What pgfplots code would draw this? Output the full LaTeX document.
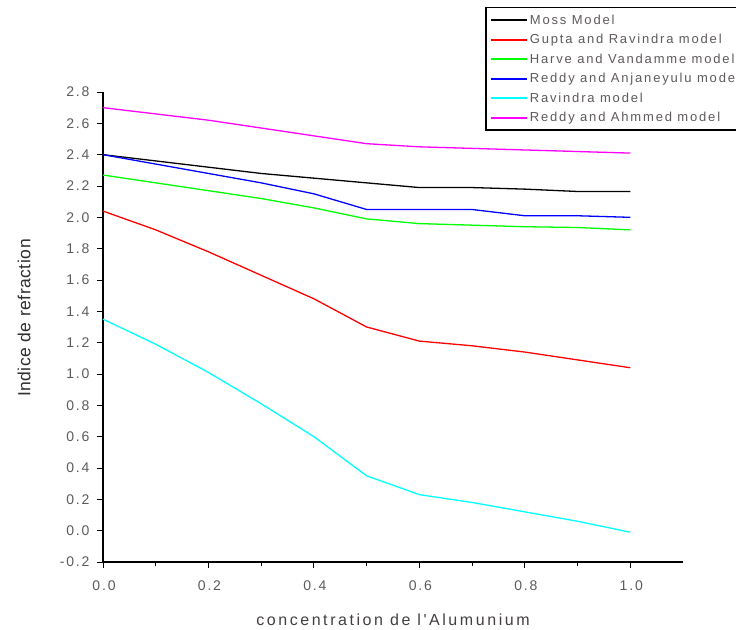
\documentclass[border=0pt]{standalone}
\usepackage{pgfplots}
\pgfplotsset{compat=1.18}
\usepackage{fontspec}
\setmainfont{Liberation Sans}
\newfontfamily\tickfont[LetterSpace=13]{Liberation Sans}
\newfontfamily\legfont[LetterSpace=14]{Liberation Sans}
\newfontfamily\xlabfont[LetterSpace=16]{Liberation Sans}
\newfontfamily\ylabfont[LetterSpace=3]{Liberation Sans}
\definecolor{lblgray}{RGB}{95,90,90}
\definecolor{cBlack}{RGB}{0,0,0}
\definecolor{cRed}{RGB}{255,0,0}
\definecolor{cGreen}{RGB}{0,255,0}
\definecolor{cBlue}{RGB}{0,0,255}
\definecolor{cCyan}{RGB}{0,255,255}
\definecolor{cMagenta}{RGB}{255,0,255}
\begin{document}
\begin{tikzpicture}
\begin{scope}
\clip (-103bp,-68bp) rectangle (633bp,562bp);
\begin{axis}[
  scale only axis,
  width=580bp, height=470bp,
  at={(0,0)}, anchor=south west,
  xmin=0, xmax=1.1, ymin=-0.2, ymax=2.8,
  axis x line=bottom, axis y line=left,
  axis line style={black, line width=1.2pt, -},
  xtick={0,0.2,...,1.0},
  ytick={-0.2,0,0.2,...,2.8},
  minor x tick num=1, minor y tick num=1,
  tick align=outside,
  major tick length=6bp, minor tick length=4bp,
  every tick/.style={black, line width=1pt},
  /pgf/number format/fixed,
  /pgf/number format/fixed zerofill,
  /pgf/number format/precision=1,
  /pgf/number format/assume math mode=true,
  ticklabel style={font=\fontsize{14bp}{16bp}\tickfont, text=lblgray},
  xticklabel style={anchor=center, yshift=-18bp, xshift=1bp},
  yticklabel style={anchor=east, xshift=-4bp},
  xlabel={concentration de l'Alumunium},
  ylabel={Indice de refraction},
  xlabel style={font=\fontsize{16bp}{18bp}\xlabfont, text=lblgray!70!black,
     at={(axis description cs:0.5,0)}, anchor=center, yshift=-58bp},
  ylabel style={font=\fontsize{17.5bp}{20bp}\ylabfont, text=lblgray!50!black,
     at={(axis description cs:0,0.519)}, anchor=center, yshift=79bp},
  clip=false,
  legend cell align=left,
  legend style={at={(axis description cs:0.659,1.181)}, anchor=north west,
    draw=black, line width=1.4pt, inner xsep=4bp, inner ysep=5bp, row sep=4.6bp,
    font=\fontsize{13bp}{15bp}\legfont, text=lblgray,
    /tikz/every even column/.append style={column sep=4bp}},
  legend image code/.code={\draw[#1,line width=2pt] (0bp,0bp) -- (36bp,0bp);},
  every axis plot/.append style={line width=1.3pt},
]
\addplot[cBlack] coordinates {(0,2.40) (0.1,2.36) (0.2,2.32) (0.3,2.28) (0.4,2.25) (0.5,2.22) (0.6,2.19) (0.7,2.19) (0.8,2.18) (0.9,2.165) (1.0,2.165)};
\addlegendentry{Moss Model}
\addplot[cRed] coordinates {(0,2.04) (0.1,1.92) (0.2,1.78) (0.3,1.63) (0.4,1.48) (0.5,1.30) (0.6,1.21) (0.7,1.18) (0.8,1.14) (0.9,1.09) (1.0,1.04)};
\addlegendentry{Gupta and Ravindra model}
\addplot[cGreen] coordinates {(0,2.27) (0.1,2.22) (0.2,2.17) (0.3,2.12) (0.4,2.06) (0.5,1.99) (0.6,1.96) (0.7,1.95) (0.8,1.94) (0.9,1.935) (1.0,1.92)};
\addlegendentry{Harve and Vandamme model}
\addplot[cBlue] coordinates {(0,2.40) (0.1,2.34) (0.2,2.28) (0.3,2.22) (0.4,2.15) (0.5,2.05) (0.6,2.05) (0.7,2.05) (0.8,2.01) (0.9,2.01) (1.0,2.00)};
\addlegendentry{Reddy and Anjaneyulu model}
\addplot[cCyan] coordinates {(0,1.35) (0.1,1.19) (0.2,1.01) (0.3,0.81) (0.4,0.60) (0.5,0.35) (0.6,0.23) (0.7,0.18) (0.8,0.12) (0.9,0.06) (1.0,-0.01)};
\addlegendentry{Ravindra model}
\addplot[cMagenta] coordinates {(0,2.70) (0.1,2.66) (0.2,2.62) (0.3,2.57) (0.4,2.52) (0.5,2.47) (0.6,2.45) (0.7,2.44) (0.8,2.43) (0.9,2.42) (1.0,2.41)};
\addlegendentry{Reddy and Ahmmed model}
\end{axis}
\end{scope}
\pgfresetboundingbox
\path[use as bounding box] (-103bp,-68bp) rectangle (633bp,562bp);
\end{tikzpicture}
\end{document}
